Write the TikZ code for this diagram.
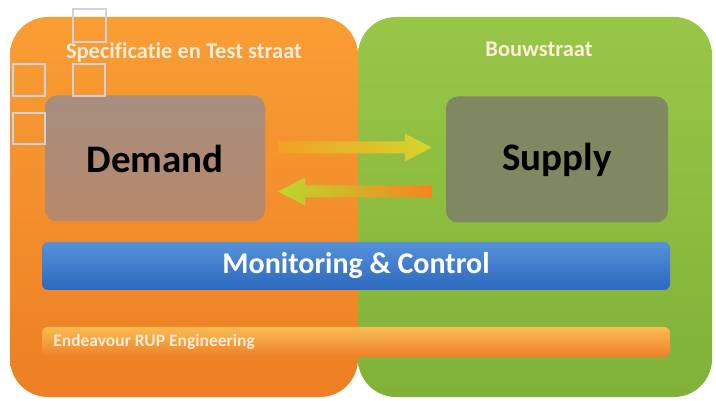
\documentclass[tikz,border=0pt]{standalone}
\usepackage{fontspec}
\setmainfont[Ligatures=NoCommon]{Carlito}
\usetikzlibrary{calc}

\definecolor{orangetop}{RGB}{249,158,52}
\definecolor{orangebot}{RGB}{237,127,36}
\definecolor{greentop}{RGB}{152,198,72}
\definecolor{greenbot}{RGB}{128,178,56}
\definecolor{demandtop}{RGB}{166,142,128}
\definecolor{demandbot}{RGB}{184,136,106}
\definecolor{supplyfill}{RGB}{128,136,98}
\definecolor{bluetop}{RGB}{86,146,216}
\definecolor{bluebot}{RGB}{44,104,190}
\definecolor{bartop}{RGB}{250,188,82}
\definecolor{barbot}{RGB}{238,128,40}
\definecolor{titletext}{RGB}{252,236,216}
\definecolor{ghostline}{RGB}{206,210,220}

\begin{document}
\begin{tikzpicture}[x=1pt,y=-1pt,
	panel/.style={rounded corners=38pt, minimum height=380pt, inner sep=0pt},
	lane/.style={font=\fontsize{22.5}{24}\selectfont\bfseries, text=titletext},
	role/.style={rounded corners=12pt, minimum width=220pt, minimum height=126pt, inner sep=0pt, font=\fontsize{39}{41}\selectfont\bfseries, text=black},
	strip/.style={rounded corners=6pt, minimum width=628pt, inner sep=0pt}]

	\useasboundingbox (0, 0) rectangle (716, 401);

	\node[panel, minimum width=348pt, top color=orangetop, bottom color=orangebot] (spec) at (184, 207) {};
	\node[panel, minimum width=354pt, top color=greentop, bottom color=greenbot] (build) at (535, 207) {};

	\node[lane] (spectitle) at (184, 52) {Specificatie en Test straat};
	\node[lane] (buildtitle) at (539, 49) {Bouwstraat};

	\node[role, top color=demandtop, bottom color=demandbot] (demand) at (155, 158.5) {Demand};
	\node[role, minimum width=222pt, fill=supplyfill] (supply) at (557, 159.5) {Supply};

	\coordinate (fwdA) at ($(demand.east)+(13,-11)$);
	\coordinate (fwdB) at ($(demand.east -| supply.west)+(-14,-11)$);
	\coordinate (backA) at ($(demand.east -| supply.west)+(-14,33)$);
	\coordinate (backB) at ($(demand.east)+(13,33)$);

	\shade[left color={rgb,255:red,242;green,160;blue,38}, right color={rgb,255:red,212;green,214;blue,44}]
		($(fwdA)+(0,-6)$) -- ($(fwdB)+(-27,-6)$) -- ($(fwdB)+(-27,-14)$) -- (fwdB)
		-- ($(fwdB)+(-27,14)$) -- ($(fwdB)+(-27,6)$) -- ($(fwdA)+(0,6)$) -- cycle;
	\shade[left color={rgb,255:red,186;green,216;blue,48}, right color={rgb,255:red,246;green,132;blue,30}]
		($(backA)+(0,-6)$) -- ($(backB)+(27,-6)$) -- ($(backB)+(27,-14)$) -- (backB)
		-- ($(backB)+(27,14)$) -- ($(backB)+(27,6)$) -- ($(backA)+(0,6)$) -- cycle;

	\node[strip, minimum height=48pt, top color=bluetop, bottom color=bluebot, text=white, font=\fontsize{30}{32}\selectfont\bfseries] (monitor) at (356, 266) {Monitoring \& Control};
	\node[strip, minimum height=30pt, top color=bartop, bottom color=barbot] (rup) at (356, 342) {};
	\node[anchor=west, text=titletext, font=\fontsize{17.5}{19}\selectfont\bfseries] (ruptext) at ($(rup.west)+(8,0)$) {Endeavour RUP Engineering};

	\draw[ghostline, line width=2pt] (73, 9) rectangle (106, 42);
	\draw[ghostline, line width=2pt] (13, 64) rectangle (45, 96);
	\draw[ghostline, line width=2pt] (73, 64) rectangle (105, 96);
	\draw[ghostline, line width=2pt] (13, 113) rectangle (45, 144);

\end{tikzpicture}
\end{document}
